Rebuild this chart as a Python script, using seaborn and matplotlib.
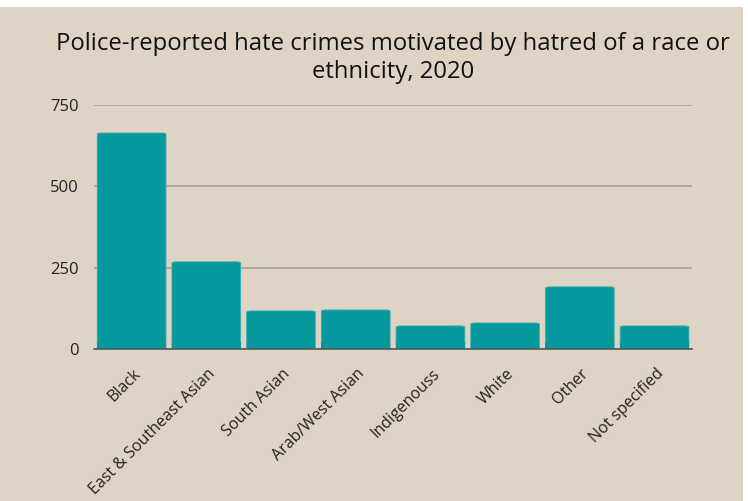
import matplotlib
matplotlib.use("Agg")
import matplotlib.pyplot as plt
import matplotlib.transforms as mtransforms
import seaborn as sns
import pandas as pd
from matplotlib.patches import FancyBboxPatch, Rectangle

# ---- data ----
categories = ["Black", "East & Southeast Asian", "South Asian", "Arab/West Asian",
              "Indigenouss", "White", "Other", "Not specified"]
counts = [664, 268, 117, 120, 71, 80, 191, 71]
y_ticks = [0, 250, 500, 750]

BG = "#DFD3C5"
BAR = "#05989C"
GRID = "#A39B90"

sns.set_theme(style="white")
plt.rcParams["font.family"] = ["Open Sans", "DejaVu Sans"]

df = pd.DataFrame({"group": categories, "count": counts})

fig = plt.figure(figsize=(7.48, 5.01), dpi=100, facecolor="white")
# beige panel (white strip at top/right like the reference)
fig.patches.append(Rectangle((0, 0), 0.993, 0.986, transform=fig.transFigure,
                             facecolor=BG, edgecolor="none", zorder=-10))
ax = fig.add_axes([0.126, 0.3034, 0.799, 0.487])
ax.set_facecolor(BG)
ax.patch.set_alpha(0)

sns.barplot(data=df, x="group", y="count", color=BAR, saturation=1,
            width=0.92, ax=ax, zorder=3)

# rounded top corners
for p in list(ax.patches):
    x, y = p.get_x(), p.get_y()
    w, h = p.get_width(), p.get_height()
    p.remove()
    rb = FancyBboxPatch((x, y), w, h,
                        boxstyle="round,pad=0,rounding_size=0.06",
                        mutation_aspect=750 / 8 * 0.6,
                        facecolor=BAR, edgecolor="#3AAFB2", linewidth=0.6, zorder=3)
    ax.add_patch(rb)
    ax.add_patch(Rectangle((x, y), w, min(h, 20), facecolor=BAR,
                           edgecolor="none", zorder=3))

ax.set_xlim(-0.5, len(categories) - 0.5)
ax.set_ylim(0, 750)
ax.set_yticks(y_ticks)
ax.set_yticklabels([str(t) for t in y_ticks], fontsize=12, color="#222222")
ax.yaxis.grid(True, color=GRID, linewidth=1.1, zorder=0)
ax.set_axisbelow(True)
ax.tick_params(axis="y", length=0, pad=11)
ax.tick_params(axis="x", length=0, pad=12)
ax.set_xticks(range(len(categories)))
ax.set_xticklabels(categories, rotation=45, ha="right", rotation_mode="anchor",
                   fontsize=11.5, color="#222222")
shift = mtransforms.ScaledTranslation(1 / 100, 0, fig.dpi_scale_trans)
for lbl in ax.get_xticklabels():
    lbl.set_transform(lbl.get_transform() + shift)
ax.set_xlabel("")
ax.set_ylabel("")
for s in ["top", "right", "left"]:
    ax.spines[s].set_visible(False)
ax.spines["bottom"].set_color("#4E5A58")
ax.spines["bottom"].set_linewidth(1.2)
ax.spines["bottom"].set_zorder(4)

fig.text(0.525, 0.884, "Police-reported hate crimes motivated by hatred of a race or\nethnicity, 2020",
         ha="center", va="center", fontsize=17.2, color="#111111", linespacing=1.25)

fig.savefig("out.png", dpi=100, facecolor="white")
